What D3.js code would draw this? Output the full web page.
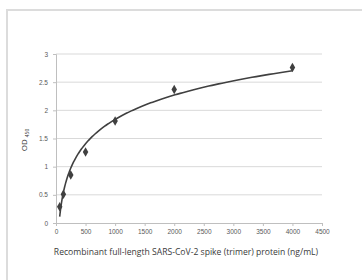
<!DOCTYPE html>
<html>
<head>
<meta charset="utf-8">
<script src="https://cdn.jsdelivr.net/npm/d3@7"></script>
<style>
	body { margin: 0; background: #fff; }
	svg { display: block; font-family: "Open Sans", "Liberation Sans", sans-serif; }
</style>
</head>
<body>
<svg width="362" height="280"></svg>
<script>
'use strict';
// data
let aConc = [62.5, 125, 250, 500, 1000, 2000, 4000]
let aOD = [0.29, 0.51, 0.85, 1.26, 1.81, 2.37, 2.76]
let aXTicks = [0, 500, 1000, 1500, 2000, 2500, 3000, 3500, 4000, 4500]
let aYTicks = [0, 0.5, 1, 1.5, 2, 2.5, 3]

let eSvg = d3.select("svg")
let dLeft = 56, dRight = 322, dTop = 54, dBottom = 223

// frame round the picture
eSvg.append("rect")
	.attr("x", 7).attr("y", 10)
	.attr("width", 400).attr("height", 400)
	.attr("fill", "none").attr("stroke", "#dcdcdc").attr("stroke-width", 2)

let x = d3.scaleLinear().domain([0, 4500]).range([dLeft, dRight])
let y = d3.scaleLinear().domain([0, 3]).range([dBottom, dTop])

// gridlines
eSvg.append("g")
	.selectAll("line")
	.data(aYTicks.filter(d => d > 0))
	.enter().append("line")
	.attr("x1", dLeft).attr("x2", dRight)
	.attr("y1", d => y(d)).attr("y2", d => y(d))
	.attr("stroke", "#d9d9d9").attr("stroke-width", 1)

// axes
let gX = eSvg.append("g")
	.attr("transform", `translate(0,${dBottom})`)
	.call(d3.axisBottom(x).tickValues(aXTicks).tickSize(3).tickPadding(3).tickFormat(d3.format("d")))
let gY = eSvg.append("g")
	.attr("transform", `translate(${dLeft},0)`)
	.call(d3.axisLeft(y).tickValues(aYTicks).tickSize(3).tickPadding(5).tickFormat(d => d))
for (let g of [gX, gY]) {
	g.select(".domain").attr("stroke", "#bfbfbf")
	g.selectAll(".tick line").attr("stroke", "#bfbfbf")
	g.selectAll("text").attr("fill", "#595959").style("font-size", "6.5px")}

// logarithmic trendline, least squares on ln(x)
let aLn = aConc.map(Math.log)
let mLn = d3.mean(aLn), mOD = d3.mean(aOD)
let slope = d3.sum(aLn, (l, i) => (l - mLn) * (aOD[i] - mOD)) / d3.sum(aLn, l => (l - mLn) ** 2)
let icpt = mOD - slope * mLn
let aFit = d3.range(0, 201).map(i => {
	let c = Math.exp(Math.log(aConc[0]) + i / 200 * (Math.log(aConc[6]) - Math.log(aConc[0])))
	return [c, slope * Math.log(c) + icpt]})

eSvg.append("path")
	.datum(aFit)
	.attr("d", d3.line().x(d => x(d[0])).y(d => y(d[1])))
	.attr("fill", "none").attr("stroke", "#404040").attr("stroke-width", 1.6)

// points
eSvg.append("g")
	.selectAll("path")
	.data(aConc)
	.enter().append("path")
	.attr("transform", (d, i) => `translate(${x(d)},${y(aOD[i])})`)
	.attr("d", d3.symbol(d3.symbolDiamond, 26))
	.attr("fill", "#404040")

// titles
eSvg.append("text")
	.attr("x", 186).attr("y", 255)
	.attr("text-anchor", "middle")
	.attr("fill", "#3a3a3a").style("font-size", "8.6px")
	.text("Recombinant full-length SARS-CoV-2 spike (trimer) protein (ng/mL)")

let eYT = eSvg.append("text")
	.attr("transform", "translate(27,140) rotate(-90)")
	.attr("text-anchor", "middle")
	.attr("fill", "#3a3a3a").style("font-size", "8px")
eYT.append("tspan").text("OD ")
eYT.append("tspan").attr("dy", 2).style("font-size", "5px").text("450")
</script>
</body>
</html>
